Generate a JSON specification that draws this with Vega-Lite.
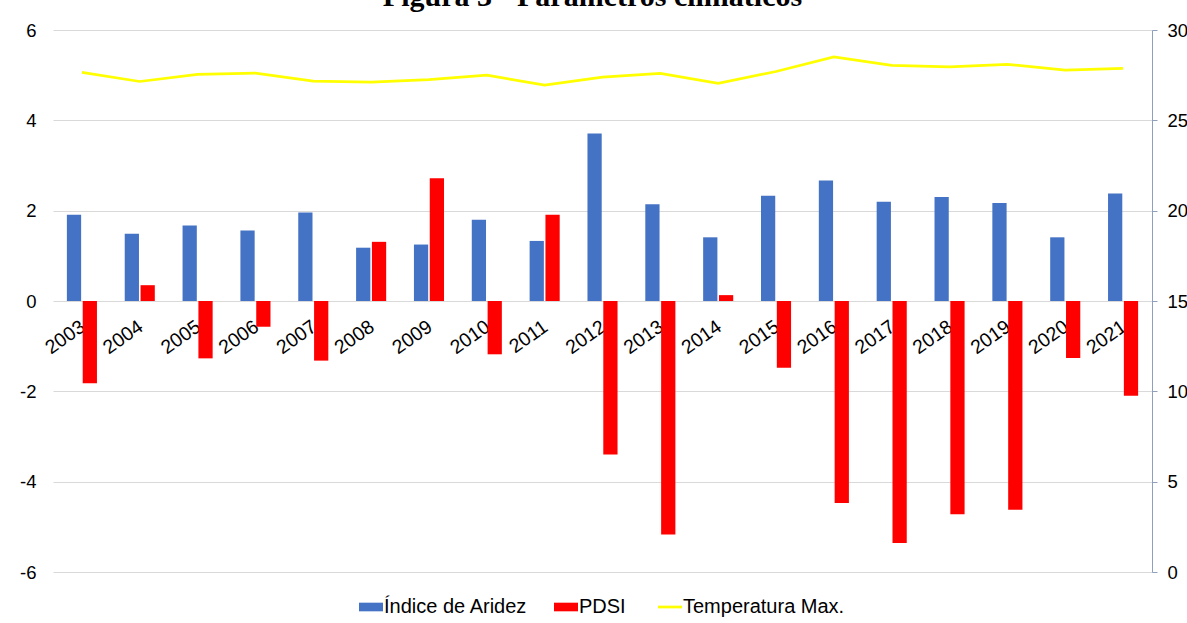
{
  "$schema": "https://vega.github.io/schema/vega-lite/v6.json",
  "width": 1099,
  "height": 542,
  "autosize": "none",
  "padding": {"left": 53, "top": 30, "right": 35, "bottom": 51},
  "background": "white",
  "title": {
    "text": "Figura 3 - Parámetros climáticos",
    "font": "Liberation Serif",
    "fontWeight": "bold",
    "fontSize": 30,
    "color": "#000000",
    "anchor": "middle",
    "frame": "group",
    "baseline": "alphabetic",
    "offset": 0,
    "dy": 15,
    "dx": -10
  },
  "config": {
    "view": {"stroke": null},
    "font": "Liberation Sans",
    "axis": {"labelFont": "Liberation Sans", "labelColor": "#000000", "labelFontSize": 18.5}
  },
  "datasets": {
    "bars": [
      {"year": "2003", "serie": "Índice de Aridez", "value": 1.91},
      {"year": "2003", "serie": "PDSI", "value": -1.82},
      {"year": "2004", "serie": "Índice de Aridez", "value": 1.49},
      {"year": "2004", "serie": "PDSI", "value": 0.35},
      {"year": "2005", "serie": "Índice de Aridez", "value": 1.67},
      {"year": "2005", "serie": "PDSI", "value": -1.27},
      {"year": "2006", "serie": "Índice de Aridez", "value": 1.56},
      {"year": "2006", "serie": "PDSI", "value": -0.57},
      {"year": "2007", "serie": "Índice de Aridez", "value": 1.96},
      {"year": "2007", "serie": "PDSI", "value": -1.32},
      {"year": "2008", "serie": "Índice de Aridez", "value": 1.18},
      {"year": "2008", "serie": "PDSI", "value": 1.31},
      {"year": "2009", "serie": "Índice de Aridez", "value": 1.25},
      {"year": "2009", "serie": "PDSI", "value": 2.72},
      {"year": "2010", "serie": "Índice de Aridez", "value": 1.80},
      {"year": "2010", "serie": "PDSI", "value": -1.18},
      {"year": "2011", "serie": "Índice de Aridez", "value": 1.33},
      {"year": "2011", "serie": "PDSI", "value": 1.91},
      {"year": "2012", "serie": "Índice de Aridez", "value": 3.71},
      {"year": "2012", "serie": "PDSI", "value": -3.40},
      {"year": "2013", "serie": "Índice de Aridez", "value": 2.14},
      {"year": "2013", "serie": "PDSI", "value": -5.17},
      {"year": "2014", "serie": "Índice de Aridez", "value": 1.41},
      {"year": "2014", "serie": "PDSI", "value": 0.13},
      {"year": "2015", "serie": "Índice de Aridez", "value": 2.33},
      {"year": "2015", "serie": "PDSI", "value": -1.48},
      {"year": "2016", "serie": "Índice de Aridez", "value": 2.67},
      {"year": "2016", "serie": "PDSI", "value": -4.47},
      {"year": "2017", "serie": "Índice de Aridez", "value": 2.20},
      {"year": "2017", "serie": "PDSI", "value": -5.36},
      {"year": "2018", "serie": "Índice de Aridez", "value": 2.30},
      {"year": "2018", "serie": "PDSI", "value": -4.72},
      {"year": "2019", "serie": "Índice de Aridez", "value": 2.17},
      {"year": "2019", "serie": "PDSI", "value": -4.62},
      {"year": "2020", "serie": "Índice de Aridez", "value": 1.41},
      {"year": "2020", "serie": "PDSI", "value": -1.26},
      {"year": "2021", "serie": "Índice de Aridez", "value": 2.38},
      {"year": "2021", "serie": "PDSI", "value": -2.10}
    ],
    "temp": [
      {"year": "2003", "temp": 27.65},
      {"year": "2004", "temp": 27.15},
      {"year": "2005", "temp": 27.54},
      {"year": "2006", "temp": 27.61},
      {"year": "2007", "temp": 27.17},
      {"year": "2008", "temp": 27.11},
      {"year": "2009", "temp": 27.25},
      {"year": "2010", "temp": 27.50},
      {"year": "2011", "temp": 26.95},
      {"year": "2012", "temp": 27.39},
      {"year": "2013", "temp": 27.60},
      {"year": "2014", "temp": 27.05},
      {"year": "2015", "temp": 27.70},
      {"year": "2016", "temp": 28.51},
      {"year": "2017", "temp": 28.04},
      {"year": "2018", "temp": 27.96},
      {"year": "2019", "temp": 28.10},
      {"year": "2020", "temp": 27.78},
      {"year": "2021", "temp": 27.88}
    ]
  },
  "layer": [
    {
      "data": {"name": "bars"},
      "mark": {"type": "bar"},
      "encoding": {
        "x": {
          "field": "year", "type": "ordinal",
          "scale": {"paddingInner": 0.48, "paddingOuter": 0.24},
          "axis": {
            "orient": "bottom", "offset": -271, "title": null,
            "labelAngle": -35, "labelAlign": "right", "labelBaseline": "top",
            "labelPadding": 16, "labelOffset": -4, "labelFontSize": 19.5,
            "ticks": false, "domain": false, "grid": false,
            "labelOverlap": false
          }
        },
        "xOffset": {"field": "serie", "type": "nominal", "scale": {"domain": ["Índice de Aridez", "PDSI"], "paddingInner": 0.1}},
        "y": {
          "field": "value", "type": "quantitative",
          "scale": {"domain": [-6, 6], "nice": false, "zero": false},
          "axis": {
            "orient": "left", "title": null, "values": [-6, -4, -2, 0, 2, 4, 6],
            "grid": true, "gridColor": "#D9D9D9", "gridWidth": 1,
            "domain": false, "ticks": false, "labelPadding": 17,
            "labelExpr": "'' + datum.value"
          }
        },
        "color": {
          "field": "serie", "type": "nominal",
          "scale": {"domain": ["Índice de Aridez", "PDSI", "Temperatura Max."], "range": ["#4472C4", "#FF0000", "#FFFF00"]},
          "legend": {
            "title": null, "orient": "none", "direction": "horizontal",
            "legendX": 308, "legendY": 567, "padding": 0,
            "labelFont": "Liberation Sans", "labelFontSize": 20, "labelColor": "#000000",
            "labelLimit": 400,
            "labelOffset": 3, "columnPadding": 26, "symbolSize": 576,
            "encode": {
              "symbols": {
                "update": {
                  "shape": {"signal": "datum.value === 'Temperatura Max.' ? 'M-1,0H1' : 'M-1,-0.36H1V0.36H-1Z'"},
                  "fill": {"signal": "datum.value === 'Temperatura Max.' ? 'transparent' : scale('color', datum.value)"},
                  "stroke": {"signal": "datum.value === 'Temperatura Max.' ? '#FFFF00' : 'transparent'"},
                  "strokeWidth": {"signal": "datum.value === 'Temperatura Max.' ? 2.7 : 0"},
                  "size": {"value": 576},
                  "opacity": {"value": 1}
                }
              }
            }
          }
        }
      }
    },
    {
      "data": {"name": "temp"},
      "mark": {"type": "line", "strokeWidth": 2.7},
      "encoding": {
        "x": {"field": "year", "type": "ordinal"},
        "y": {
          "field": "temp", "type": "quantitative",
          "scale": {"domain": [0, 30], "nice": false},
          "axis": {
            "orient": "right", "title": null, "values": [0, 5, 10, 15, 20, 25, 30],
            "grid": false, "domain": true, "domainColor": "#8EA0BE", "domainWidth": 1,
            "ticks": true, "tickColor": "#8EA0BE", "tickSize": 5, "labelPadding": 10
          }
        },
        "color": {"datum": "Temperatura Max.", "type": "nominal"}
      }
    }
  ],
  "resolve": {"scale": {"y": "independent"}}
}
